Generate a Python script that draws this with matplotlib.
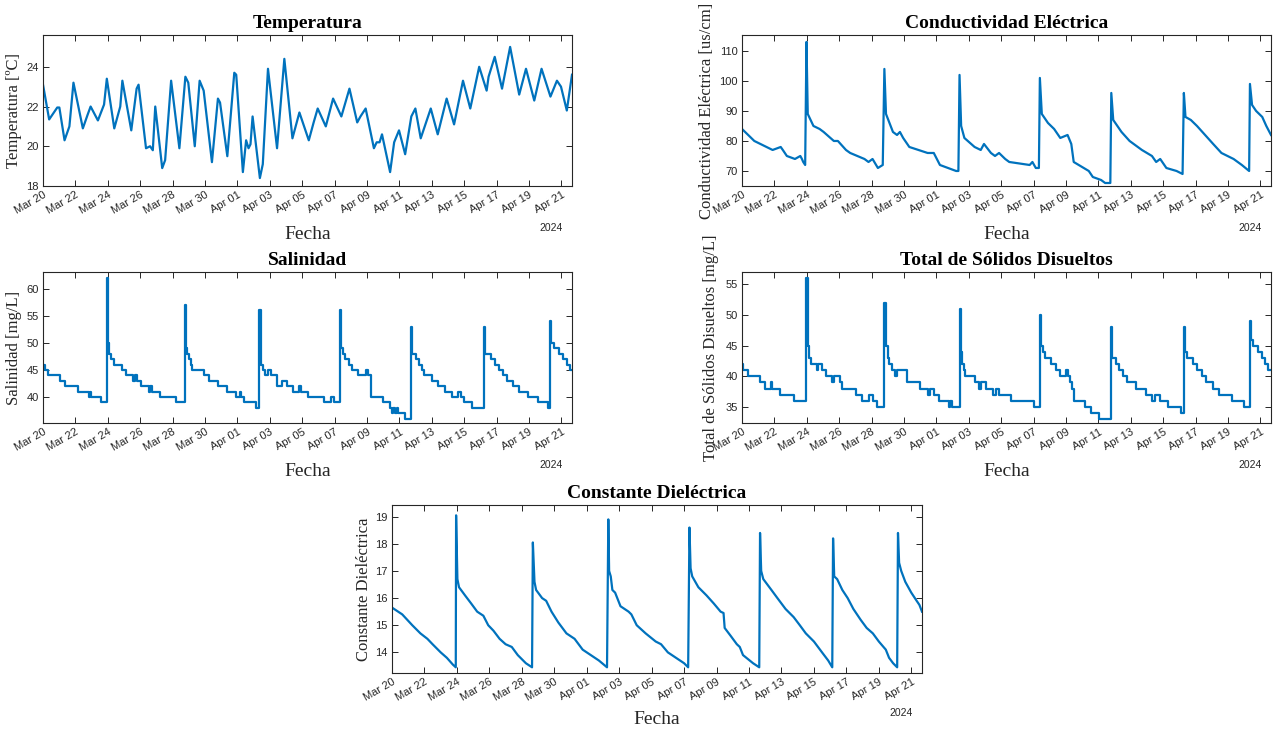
import numpy as np
import pandas as pd
import matplotlib
matplotlib.use("Agg")
import matplotlib.pyplot as plt
import matplotlib.dates as mdates

# ---------------- data (days since 2024-03-20 00:00) ----------------
start_date = "2024-03-20"
end_day = 32.66

temp_days = [0.00, 0.38, 0.88, 1.01, 1.33, 1.63, 1.88, 2.46, 2.76, 2.94, 3.39, 3.77, 3.94,
             4.40, 4.77, 4.90, 5.45, 5.78, 5.90, 6.36, 6.61, 6.78, 6.93, 7.36, 7.54, 7.91,
             8.42, 8.79, 8.97, 9.37, 9.67, 9.92, 10.43, 10.80, 10.93, 11.38, 11.81, 11.93,
             12.34, 12.54, 12.69, 12.81, 12.94, 13.39, 13.57, 13.89, 14.45, 14.90, 15.40,
             15.83, 16.41, 16.71, 16.96, 17.46, 17.91, 18.42, 18.92, 19.40, 19.60, 19.92,
             20.43, 20.60, 20.78, 20.93, 21.43, 21.68, 21.98, 22.36, 22.74, 22.99, 23.32,
             23.94, 24.37, 24.92, 25.38, 25.93, 26.38, 26.93, 27.39, 27.51, 27.89, 28.34,
             28.84, 29.40, 29.82, 30.33, 30.78, 31.33, 31.73, 31.98, 32.34, 32.66]
temp_vals = [23.1, 21.35, 21.95, 21.95, 20.3, 21.0, 23.2, 20.9, 21.6, 22.0, 21.3, 22.1, 23.4,
             20.9, 22.0, 23.3, 20.8, 22.9, 23.1, 19.9, 20.0, 19.8, 22.0, 18.9, 19.3, 23.3,
             19.9, 23.5, 23.2, 20.0, 23.3, 22.8, 19.2, 22.4, 22.2, 19.5, 23.7, 23.6,
             18.7, 20.3, 19.9, 20.1, 21.5, 18.4, 19.1, 23.9, 19.9, 24.4, 20.4,
             21.7, 20.3, 21.2, 21.9, 21.0, 22.4, 21.5, 22.9, 21.2, 21.5, 21.9,
             19.9, 20.2, 20.2, 20.6, 18.7, 20.2, 20.8, 19.6, 21.5, 21.9, 20.4,
             21.9, 20.6, 22.4, 21.1, 23.3, 21.9, 24.0, 22.8, 23.5, 24.5, 22.9,
             25.0, 22.6, 23.9, 22.3, 23.9, 22.5, 23.3, 23.0, 21.8, 23.6]

ce_days = [0.00, 0.76, 1.89, 2.39, 2.52, 2.77, 3.27, 3.60, 3.70, 3.78, 3.90, 3.98, 4.06,
           4.41, 4.79, 5.04, 5.67, 5.92, 6.42, 6.68, 7.56, 7.81, 8.06, 8.39, 8.69, 8.79,
           8.89, 9.32, 9.57, 9.75, 9.95, 10.33, 11.46, 11.84, 12.22, 13.22, 13.36, 13.43,
           13.53, 13.73, 14.36, 14.74, 14.94, 15.37, 15.62, 15.87, 16.25, 16.50, 17.76,
           17.93, 18.14, 18.33, 18.39, 18.51, 18.89, 19.27, 19.65, 20.10, 20.33, 20.48,
           21.41, 21.66, 22.17, 22.42, 22.74, 22.80, 22.92, 23.43, 23.93, 24.69, 25.31,
           25.57, 25.82, 26.20, 26.83, 27.20, 27.28, 27.38, 27.71, 28.09, 28.59, 29.09,
           29.60, 30.35, 30.86, 31.31, 31.36, 31.49, 31.74, 32.12, 32.37, 32.66]
ce_vals = [84, 80, 77, 78, 77, 75, 74, 75, 74, 73, 72, 113, 89,
           85, 84, 83, 80, 80, 77, 76, 74, 73, 74, 71, 72, 104,
           89, 83, 82, 83, 81, 78, 76, 76, 72, 70, 70, 102,
           85, 81, 78, 77, 79, 76, 75, 76, 74, 73, 72,
           73, 71, 71, 101, 89, 86, 84, 81, 82, 79, 73,
           70, 68, 67, 66, 66, 96, 87, 83, 80, 77, 75,
           73, 74, 71, 70, 69, 96, 88, 87, 85, 82, 79,
           76, 74, 72, 70, 99, 92, 90, 88, 85, 82]

sal_days = [0.00, 0.13, 0.33, 1.08, 1.38, 2.19, 2.84, 2.89, 2.99, 3.59, 3.94, 4.02, 4.10,
            4.20, 4.40, 4.85, 5.15, 5.53, 5.65, 5.78, 6.03, 6.53, 6.61, 6.71, 7.21, 8.22,
            8.74, 8.82, 8.92, 9.00, 9.12, 9.22, 9.97, 10.23, 10.80, 11.38, 11.93, 12.14,
            12.24, 12.39, 13.14, 13.34, 13.44, 13.57, 13.69, 13.89, 14.07, 14.45, 14.77,
            15.08, 15.45, 15.78, 15.90, 16.33, 17.34, 17.76, 17.96, 18.34, 18.42, 18.52,
            18.67, 18.92, 19.10, 19.47, 19.92, 20.05, 20.28, 20.98, 21.43, 21.56, 21.63,
            21.73, 21.86, 21.93, 22.36, 22.74, 22.81, 23.04, 23.19, 23.37, 23.54, 23.99,
            24.37, 24.82, 25.25, 25.65, 25.80, 26.01, 26.51, 27.21, 27.31, 27.64, 27.89,
            28.14, 28.39, 28.64, 29.02, 29.40, 29.97, 30.53, 31.16, 31.28, 31.36, 31.53,
            31.83, 32.09, 32.34, 32.54, 32.66]
sal_vals = [46, 45, 44, 43, 42, 41, 40, 41, 40, 39, 62, 50, 48,
            47, 46, 45, 44, 43, 44, 43, 42, 41, 42, 41, 40, 39,
            57, 49, 48, 47, 46, 45, 44, 43, 42, 41, 40, 41,
            40, 39, 38, 56, 46, 45, 44, 45, 44, 42, 43,
            42, 41, 42, 41, 40, 39, 40, 39, 56, 49, 48,
            47, 46, 45, 44, 45, 44, 40, 39, 38, 37, 38,
            37, 38, 37, 36, 53, 48, 47, 46, 45, 44, 43,
            42, 41, 40, 41, 40, 39, 38, 53, 48, 47, 46,
            45, 44, 43, 42, 41, 40, 39, 38, 54, 50, 49,
            48, 47, 46, 45, 45]

tds_days = [0.00, 0.08, 0.38, 1.13, 1.44, 1.76, 1.84, 2.34, 3.20, 3.98, 4.06, 4.16, 4.28,
            4.61, 4.71, 4.91, 5.16, 5.54, 5.67, 6.05, 6.17, 7.05, 7.43, 7.81, 8.06, 8.31,
            8.79, 8.87, 8.99, 9.09, 9.24, 9.45, 9.57, 10.20, 10.96, 11.46, 11.59, 11.84,
            12.17, 12.77, 12.85, 12.97, 13.43, 13.50, 13.60, 13.68, 13.78, 14.36, 14.61,
            14.74, 15.04, 15.49, 15.69, 15.87, 16.62, 18.01, 18.39, 18.46, 18.56, 18.69,
            19.07, 19.40, 19.65, 20.03, 20.10, 20.28, 20.35, 20.48, 21.16, 21.54, 22.04,
            22.80, 22.87, 23.10, 23.30, 23.55, 23.80, 24.31, 24.94, 25.31, 25.47, 25.82,
            26.32, 27.08, 27.28, 27.36, 27.46, 27.83, 28.09, 28.39, 28.64, 29.09, 29.47,
            30.23, 30.98, 31.36, 31.44, 31.54, 31.86, 32.12, 32.32, 32.49, 32.66]
tds_vals = [42, 41, 40, 39, 38, 39, 38, 37, 36, 56, 45, 43, 42,
            41, 42, 41, 40, 39, 40, 39, 38, 37, 36, 37, 36, 35,
            52, 45, 43, 42, 41, 40, 41, 39, 38, 37, 38, 37,
            36, 35, 36, 35, 51, 44, 42, 41, 40, 39, 38,
            39, 38, 37, 38, 37, 36, 35, 50, 45, 44, 43,
            42, 41, 40, 41, 40, 39, 38, 36, 35, 34, 33,
            48, 43, 42, 41, 40, 39, 38, 37, 36, 37, 36,
            35, 34, 48, 44, 43, 42, 41, 40, 39, 38, 37,
            36, 35, 49, 46, 45, 44, 43, 42, 41, 41]

dc_days = [0.00, 0.63, 1.25, 1.75, 2.18, 2.50, 3.00, 3.38, 3.75, 3.93, 3.95, 4.03, 4.13,
           4.50, 4.88, 5.25, 5.63, 5.93, 6.25, 6.63, 7.00, 7.38, 7.75, 8.25, 8.63, 8.68,
           8.78, 8.88, 9.25, 9.50, 9.83, 10.25, 10.75, 11.25, 11.75, 12.25, 12.75, 13.25,
           13.33, 13.38, 13.48, 13.58, 13.75, 14.08, 14.58, 14.75, 15.08, 15.63, 16.25,
           16.58, 17.00, 17.50, 18.00, 18.25, 18.33, 18.40, 18.50, 18.88, 19.38, 19.83,
           20.25, 20.43, 20.50, 20.88, 21.25, 21.43, 21.63, 22.25, 22.63, 22.68, 22.75,
           22.88, 23.38, 23.75, 24.25, 24.75, 25.13, 25.50, 26.00, 26.50, 26.88, 27.13,
           27.18, 27.25, 27.43, 27.75, 28.08, 28.43, 28.88, 29.25, 29.63, 30.00, 30.43,
           30.63, 30.88, 31.13, 31.18, 31.25, 31.38, 31.63, 32.00, 32.33, 32.50, 32.66]
dc_vals = [15.65, 15.4, 15.0, 14.7, 14.5, 14.3, 14.0, 13.8, 13.55, 13.45, 19.05, 16.7, 16.4,
           16.1, 15.8, 15.5, 15.35, 15.0, 14.8, 14.5, 14.3, 14.2, 13.9, 13.6, 13.45, 18.05,
           16.6, 16.3, 16.0, 15.9, 15.5, 15.1, 14.7, 14.5, 14.1, 13.9, 13.7, 13.45,
           18.9, 17.0, 16.8, 16.3, 16.2, 15.7, 15.5, 15.4, 15.0, 14.7, 14.4,
           14.3, 14.0, 13.8, 13.6, 13.45, 18.6, 17.1, 16.8, 16.4, 16.1, 15.8,
           15.5, 15.45, 14.9, 14.6, 14.3, 14.2, 13.9, 13.6, 13.45, 18.4, 17.0,
           16.7, 16.3, 16.0, 15.6, 15.3, 15.0, 14.7, 14.4, 14.0, 13.7, 13.45,
           18.2, 16.8, 16.7, 16.3, 16.0, 15.6, 15.2, 14.9, 14.7, 14.4, 14.1,
           13.8, 13.6, 13.45, 18.4, 17.3, 17.0, 16.6, 16.2, 15.9, 15.75, 15.5]

tick_dates = pd.date_range(start_date, periods=17, freq="2D")

# ---------------- styling ----------------
W, H = 1282, 730
fig = plt.figure(figsize=(W / 100, H / 100), dpi=100)
fig.patch.set_facecolor("white")

LINE = "#0072BD"
AX = "#262626"
SERIF = ["Liberation Serif", "DejaVu Serif"]
SANS = ["Liberation Sans", "DejaVu Sans"]


def make_ax(l, t, r, b):
    return fig.add_axes([l / W, 1 - b / H, (r - l) / W, (b - t) / H])


base = pd.Timestamp(start_date)


def to_time(days):
    return base + pd.to_timedelta(np.asarray(days), unit="D")


def setup(ax, days, vals, title, ylabel, ylim, yticks, steps, ylab_px, xlab_px, yr_px):
    ax.plot(to_time(days), vals, color=LINE, lw=1.6,
            drawstyle="steps-post" if steps else "default")
    ax.set_xlim(base, base + pd.Timedelta(days=end_day))
    ax.set_ylim(*ylim)
    ax.set_yticks(yticks)
    ax.set_xticks(tick_dates)
    ax.xaxis.set_major_formatter(mdates.DateFormatter("%b %d"))
    ax.tick_params(axis="both", direction="in", length=4, width=0.7, colors=AX,
                   labelsize=8, top=True, right=True, pad=3)
    for lab in ax.get_xticklabels():
        lab.set_rotation(30)
        lab.set_ha("right")
        lab.set_rotation_mode("anchor")
        lab.set_fontfamily(SANS)
    for lab in ax.get_yticklabels():
        lab.set_fontfamily(SANS)
    for s in ax.spines.values():
        s.set_color(AX)
        s.set_linewidth(0.8)
    ax.set_title(title, fontfamily=SERIF, fontweight="bold", fontsize=14, color="black", pad=5)
    bbox = ax.get_position()
    hpx = bbox.height * H
    wpx = bbox.width * W
    ax.set_ylabel(ylabel, fontfamily=SERIF, fontsize=12, color=AX)
    ax.yaxis.set_label_coords(-ylab_px / wpx, 0.5)
    ax.set_xlabel("Fecha", fontfamily=SERIF, fontsize=14, color=AX)
    ax.xaxis.set_label_coords(0.5, -xlab_px / hpx)
    ax.annotate("2024", xy=(1, 0), xycoords="axes fraction", xytext=(-21, -yr_px),
                textcoords="offset pixels", ha="center", va="center",
                fontsize=7.5, fontfamily=SANS, color=AX)


ax1 = make_ax(43, 35, 572, 186)
setup(ax1, temp_days, temp_vals, "Temperatura", "Temperatura [ºC]",
      (18, 25.6), [18, 20, 22, 24], False, 21, 40, 42)

ax2 = make_ax(742, 35, 1271, 186)
setup(ax2, ce_days, ce_vals, "Conductividad Eléctrica", "Conductividad Eléctrica [us/cm]",
      (65, 115.3), [70, 80, 90, 100, 110], False, 27, 40, 42)

ax3 = make_ax(43, 272, 572, 423)
setup(ax3, sal_days, sal_vals, "Salinidad", "Salinidad [mg/L]",
      (35.2, 63.1), [40, 45, 50, 55, 60], True, 21, 40, 42)

ax4 = make_ax(742, 272, 1271, 423)
setup(ax4, tds_days, tds_vals, "Total de Sólidos Disueltos", "Total de Sólidos Disueltos [mg/L]",
      (32.4, 57.0), [35, 40, 45, 50, 55], True, 23, 40, 42)

ax5 = make_ax(392, 505, 922, 673)
setup(ax5, dc_days, dc_vals, "Constante Dieléctrica", "Constante Dieléctrica",
      (13.24, 19.43), [14, 15, 16, 17, 18, 19], False, 20, 38, 40)

fig.savefig("out.png", dpi=100, facecolor="white")
